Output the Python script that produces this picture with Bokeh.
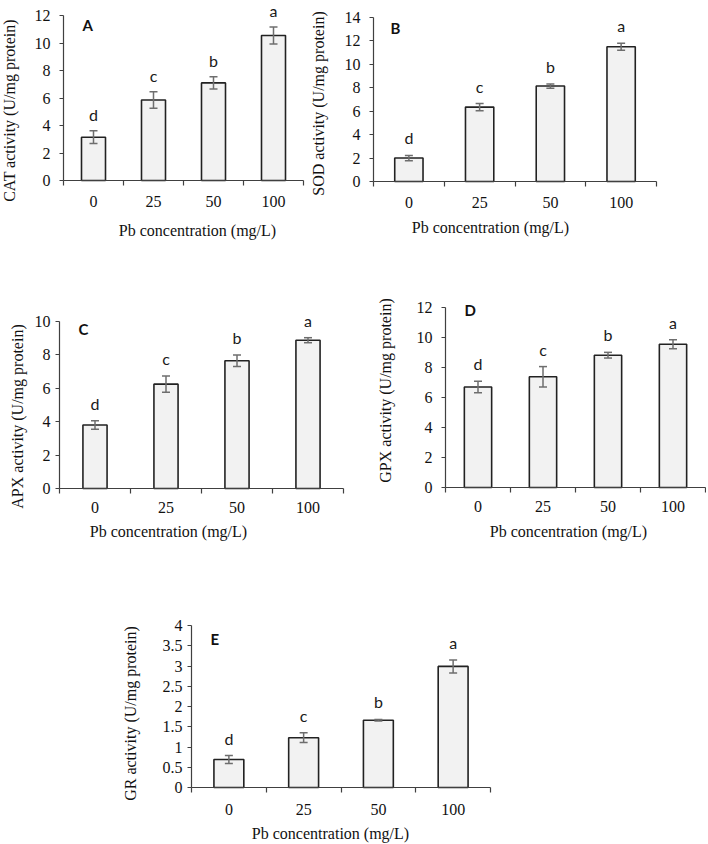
import math
from bokeh.plotting import figure
from bokeh.models import (ColumnDataSource, Range1d, FixedTicker, NumeralTickFormatter,
                          Whisker, TeeHead, LabelSet, Label, LinearAxis)
from bokeh.layouts import column, row
from bokeh.core.properties import value
from bokeh.embed import file_html
from bokeh.resources import INLINE

# ---------------- data ----------------
categories = ["0", "25", "50", "100"]
x_label = "Pb concentration (mg/L)"

cat_mean = [3.15, 5.85, 7.10, 10.55]
cat_err = [0.46, 0.60, 0.45, 0.62]
cat_sig = ["d", "c", "b", "a"]
cat_ticks = [0, 2, 4, 6, 8, 10, 12]

sod_mean = [2.00, 6.35, 8.15, 11.50]
sod_err = [0.22, 0.30, 0.18, 0.30]
sod_sig = ["d", "c", "b", "a"]
sod_ticks = [0, 2, 4, 6, 8, 10, 12, 14]

apx_mean = [3.80, 6.25, 7.65, 8.88]
apx_err = [0.25, 0.48, 0.34, 0.15]
apx_sig = ["d", "c", "b", "a"]
apx_ticks = [0, 2, 4, 6, 8, 10]

gpx_mean = [6.70, 7.38, 8.82, 9.55]
gpx_err = [0.38, 0.68, 0.19, 0.30]
gpx_sig = ["d", "c", "b", "a"]
gpx_ticks = [0, 2, 4, 6, 8, 10, 12]

gr_mean = [0.69, 1.23, 1.66, 2.99]
gr_err = [0.10, 0.12, 0.02, 0.16]
gr_sig = ["d", "c", "b", "a"]
gr_ticks = [0, 0.5, 1, 1.5, 2, 2.5, 3, 3.5, 4]

SERIF = "Liberation Serif"
SANS = "Lato"
AXIS_COL = "#404040"
TXT = "#111111"


def panel(letter, ylabel, means, errs, sig, yticks, *, w, h, fl, fr, zero_px, top_px,
          bar_w=0.4, y_std=9, x_std=10, sig_off=11, let_xy=(80, 12), ylab_xy=(10, 100),
          xlab_xy=(150, 225)):
    """fl/fr: pixel x of category axis start/end; zero_px/top_px: pixel y of 0 and of the top tick."""
    ymax = yticks[-1]
    n = len(categories)
    ppu = (zero_px - top_px) / ymax          # pixels per y unit
    ppx = (fr - fl) / n                      # pixels per category

    def dx(px):
        return (px - fl) / ppx

    def dy(py):
        return (zero_px - py) / ppu

    p = figure(width=w, height=h, output_backend="svg", toolbar_location=None,
               x_range=Range1d(dx(0), dx(w)), y_range=Range1d(dy(h), dy(0)),
               x_axis_location=None, y_axis_location=None,
               min_border=0, min_border_left=0, min_border_right=0,
               min_border_top=0, min_border_bottom=0)
    p.outline_line_color = None
    p.xgrid.visible = False
    p.ygrid.visible = False
    p.background_fill_color = "white"
    p.border_fill_color = "white"

    xs = [i + 0.5 for i in range(n)]
    src = ColumnDataSource(dict(x=xs, top=means,
                                upper=[m + e for m, e in zip(means, errs)],
                                lower=[m - e for m, e in zip(means, errs)],
                                sig=sig))
    p.vbar(x="x", top="top", bottom=0, width=bar_w, source=src,
           fill_color="#f2f2f2", line_color="#222222", line_width=1.6)
    wk = Whisker(source=src, base="x", upper="upper", lower="lower",
                 line_color="#6e6e6e", line_width=1.5, level="overlay",
                 upper_head=TeeHead(size=8, line_color="#6e6e6e", line_width=1.5),
                 lower_head=TeeHead(size=8, line_color="#6e6e6e", line_width=1.5))
    p.add_layout(wk)
    p.add_layout(LabelSet(x="x", y="upper", text="sig", source=src, y_offset=sig_off,
                          text_align="center", text_baseline="alphabetic",
                          text_font=value(SANS), text_font_size="16px",
                          text_color="#1a1a1a"))
    p.add_layout(Label(x=dx(let_xy[0]), y=dy(let_xy[1]), text=letter,
                       text_font=SANS, text_font_style="bold", text_font_size="15px",
                       text_baseline="top", text_align="left", text_color=TXT))
    # axis titles
    p.add_layout(Label(x=dx(ylab_xy[0]), y=dy(ylab_xy[1]), text=ylabel, angle=math.pi / 2,
                       text_align="center", text_baseline="middle",
                       text_font=SERIF, text_font_size="16px", text_color=TXT))
    p.add_layout(Label(x=dx(xlab_xy[0]), y=dy(xlab_xy[1]), text=x_label,
                       text_align="center", text_baseline="middle",
                       text_font=SERIF, text_font_size="16px", text_color=TXT))

    # y axis at x = 0
    ya = LinearAxis(fixed_location=0)
    ya.ticker = FixedTicker(ticks=yticks)
    ya.formatter = NumeralTickFormatter(format="0.[0]")
    ya.bounds = (0, ymax)
    ya.major_tick_out = 4
    ya.major_tick_in = 0
    ya.minor_tick_out = 0
    ya.minor_tick_in = 0
    ya.major_label_standoff = y_std

    # x axis at y = 0: labels at category centres, ticks at category boundaries
    xa = LinearAxis(fixed_location=0)
    xa.ticker = FixedTicker(ticks=xs, minor_ticks=list(range(n + 1)))
    xa.major_label_overrides = {x: c for x, c in zip(xs, categories)}
    xa.bounds = (0, n)
    xa.major_tick_out = 0
    xa.major_tick_in = 0
    xa.minor_tick_out = 5
    xa.minor_tick_in = 0
    xa.major_label_standoff = x_std

    for ax in (xa, ya):
        ax.axis_line_color = AXIS_COL
        ax.axis_line_width = 1.2
        ax.major_tick_line_color = AXIS_COL
        ax.minor_tick_line_color = AXIS_COL
        ax.major_tick_line_width = 1.2
        ax.minor_tick_line_width = 1.2
        ax.major_label_text_font = SERIF
        ax.major_label_text_font_size = "16px"
        ax.major_label_text_color = TXT
    p.add_layout(ya, "left")
    p.add_layout(xa, "below")
    return p


pA = panel("A", "CAT activity (U/mg protein)", cat_mean, cat_err, cat_sig, cat_ticks,
           w=310, h=242, fl=63, fr=303, zero_px=180, top_px=15, sig_off=10,
           y_std=9, x_std=10, let_xy=(82, 15), ylab_xy=(9, 110), xlab_xy=(197, 230))
pB = panel("B", "SOD activity (U/mg protein)", sod_mean, sod_err, sod_sig, sod_ticks,
           w=396, h=242, fl=63, fr=346, zero_px=181, top_px=17,
           y_std=9, x_std=10, let_xy=(80, 18), ylab_xy=(8, 103), xlab_xy=(180, 227))
pC = panel("C", "APX activity (U/mg protein)", apx_mean, apx_err, apx_sig, apx_ticks,
           w=375, h=299, fl=59, fr=343, zero_px=246, top_px=79, bar_w=0.34,
           y_std=5, x_std=8, let_xy=(78, 77), ylab_xy=(17, 174), xlab_xy=(168, 289))
pD = panel("D", "GPX activity (U/mg protein)", gpx_mean, gpx_err, gpx_sig, gpx_ticks,
           w=331, h=299, fl=70, fr=330, zero_px=245, top_px=65, bar_w=0.42,
           y_std=9, x_std=8, let_xy=(89, 58), ylab_xy=(10, 148), xlab_xy=(193, 289))
pE = panel("E", "GR activity (U/mg  protein)", gr_mean, gr_err, gr_sig, gr_ticks,
           w=706, h=302, fl=191, fr=490, zero_px=246, top_px=84,
           y_std=5, x_std=11, let_xy=(210, 88), ylab_xy=(130, 170), xlab_xy=(330, 292))

layout = column(row(pA, pB), row(pC, pD), pE)
open("out.html", "w").write(file_html(layout, INLINE))
